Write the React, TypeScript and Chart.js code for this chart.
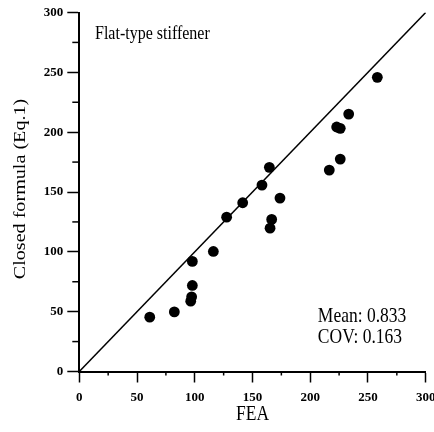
import React, { useEffect, useRef } from "react";
import { Chart, registerables } from "chart.js";

Chart.register(...registerables);

// Data
const feaValues = [258.1, 233.3, 222.9, 226.0, 226.0, 216.5, 164.6, 158.2, 141.5, 173.8, 127.6, 166.6, 165.2, 116.1, 97.9, 97.9, 97.3, 96.5, 82.3, 61.0];
const closedValues = [245.8, 215.1, 204.3, 203.2, 177.5, 168.3, 170.6, 155.8, 141.0, 144.9, 129.0, 127.1, 119.8, 100.3, 92.0, 71.9, 62.4, 58.8, 49.8, 45.4];
const refLineX = [0, 300];
const refLineY = [0, 300];
const axisMin = 0;
const axisMax = 300;
const majorStep = 50;
const minorTicks = [25, 75, 125, 175, 225, 275];

const xTitle = "FEA";
const yTitle = "Closed formula (Eq.1)";
const panelLabel = "Flat-type stiffener";
const statsLines = ["Mean: 0.833", "COV: 0.163"];

const SERIF = '"Liberation Serif", "Times New Roman", serif';
const STRETCH = 1.15;

const minorTickPlugin = {
  id: "minorTicks",
  afterDraw(chart: any) {
    const { ctx, scales } = chart;
    const xs = scales.x;
    const ys = scales.y;
    const area = chart.chartArea;
    ctx.save();
    ctx.strokeStyle = "#000";
    ctx.lineWidth = 1.5;
    minorTicks.forEach((v) => {
      const px = xs.getPixelForValue(v);
      ctx.beginPath();
      ctx.moveTo(px, area.bottom);
      ctx.lineTo(px, area.bottom + 4);
      ctx.stroke();
      const py = ys.getPixelForValue(v);
      ctx.beginPath();
      ctx.moveTo(area.left, py);
      ctx.lineTo(area.left - 7, py);
      ctx.stroke();
    });
    ctx.restore();
  },
};

const textPlugin = {
  id: "texts",
  afterDraw(chart: any) {
    const { ctx, scales } = chart;
    const xs = scales.x;
    const ys = scales.y;
    const area = chart.chartArea;
    ctx.save();
    ctx.fillStyle = "#000";
    ctx.textBaseline = "alphabetic";

    const drawAt = (text: string, x: number, y: number, size: number, align: CanvasTextAlign) => {
      ctx.save();
      ctx.translate(x, y);
      ctx.scale(1, STRETCH);
      ctx.font = `${size}px ${SERIF}`;
      ctx.textAlign = align;
      ctx.fillText(text, 0, 0);
      ctx.restore();
    };

    drawAt(panelLabel, xs.getPixelForValue(13.6), ys.getPixelForValue(277.8), 16, "left");
    drawAt(statsLines[0], xs.getPixelForValue(206.6), ys.getPixelForValue(41.2), 17.5, "left");
    drawAt(statsLines[1], xs.getPixelForValue(206.6), ys.getPixelForValue(23.4), 17.5, "left");

    // x axis title
    drawAt(xTitle, (area.left + area.right) / 2, 420, 17.5, "center");

    // y axis title (rotated)
    ctx.save();
    ctx.translate(24.5, (area.top + area.bottom) / 2 - 3);
    ctx.rotate(-Math.PI / 2);
    ctx.scale(STRETCH, 1);
    ctx.font = `17.5px ${SERIF}`;
    ctx.textAlign = "center";
    ctx.fillText(yTitle, 0, 0);
    ctx.restore();

    ctx.restore();
  },
};

export default function App() {
  const canvasRef = useRef<HTMLCanvasElement | null>(null);

  useEffect(() => {
    const canvas = canvasRef.current;
    if (!canvas) return;
    const tickFont = { family: SERIF, size: 13, weight: "bold" as const };
    const chart = new Chart(canvas, {
      type: "scatter",
      data: {
        datasets: [
          {
            type: "scatter",
            label: "points",
            data: feaValues.map((x, i) => ({ x, y: closedValues[i] })),
            backgroundColor: "#000",
            borderColor: "#000",
            pointRadius: 5.4,
            pointHoverRadius: 5.4,
            borderWidth: 0,
            order: 0,
          },
          {
            type: "line",
            label: "y = x",
            data: refLineX.map((x, i) => ({ x, y: refLineY[i] })),
            borderColor: "#000",
            borderWidth: 1.5,
            pointRadius: 0,
            fill: false,
            tension: 0,
            order: 1,
          } as any,
        ],
      },
      options: {
        responsive: false,
        animation: false,
        devicePixelRatio: 1,
        layout: { padding: { top: 12.5, right: 8.3, left: 0, bottom: 0 } },
        plugins: {
          legend: { display: false },
          tooltip: { enabled: false },
          title: { display: false },
        },
        scales: {
          x: {
            type: "linear",
            position: "bottom",
            min: axisMin,
            max: axisMax,
            ticks: {
              stepSize: majorStep,
              color: "#000",
              font: tickFont,
              padding: 7,
              maxRotation: 0,
              autoSkip: false,
            },
            grid: {
              drawOnChartArea: false,
              drawTicks: true,
              tickLength: 11,
              tickColor: "#000",
              tickWidth: 1.5,
            },
            border: { display: true, color: "#000", width: 2 },
            afterFit: (s: any) => {
              s.height = 60.5;
              s.paddingLeft = 0;
              s.paddingRight = 0;
            },
          },
          y: {
            type: "linear",
            position: "left",
            min: axisMin,
            max: axisMax,
            ticks: {
              stepSize: majorStep,
              color: "#000",
              font: tickFont,
              padding: 4,
              autoSkip: false,
            },
            grid: {
              drawOnChartArea: false,
              drawTicks: true,
              tickLength: 12,
              tickColor: "#000",
              tickWidth: 1.5,
            },
            border: { display: true, color: "#000", width: 2 },
            afterFit: (s: any) => {
              s.width = 79.3;
              s.paddingTop = 0;
              s.paddingBottom = 0;
            },
          },
        },
      },
      plugins: [minorTickPlugin, textPlugin],
    });
    return () => chart.destroy();
  }, []);

  return (
    <div style={{ position: "absolute", left: 0, top: 0, width: 434, height: 432, background: "#fff" }}>
      <canvas ref={canvasRef} width={434} height={432} style={{ display: "block" }} />
    </div>
  );
}
